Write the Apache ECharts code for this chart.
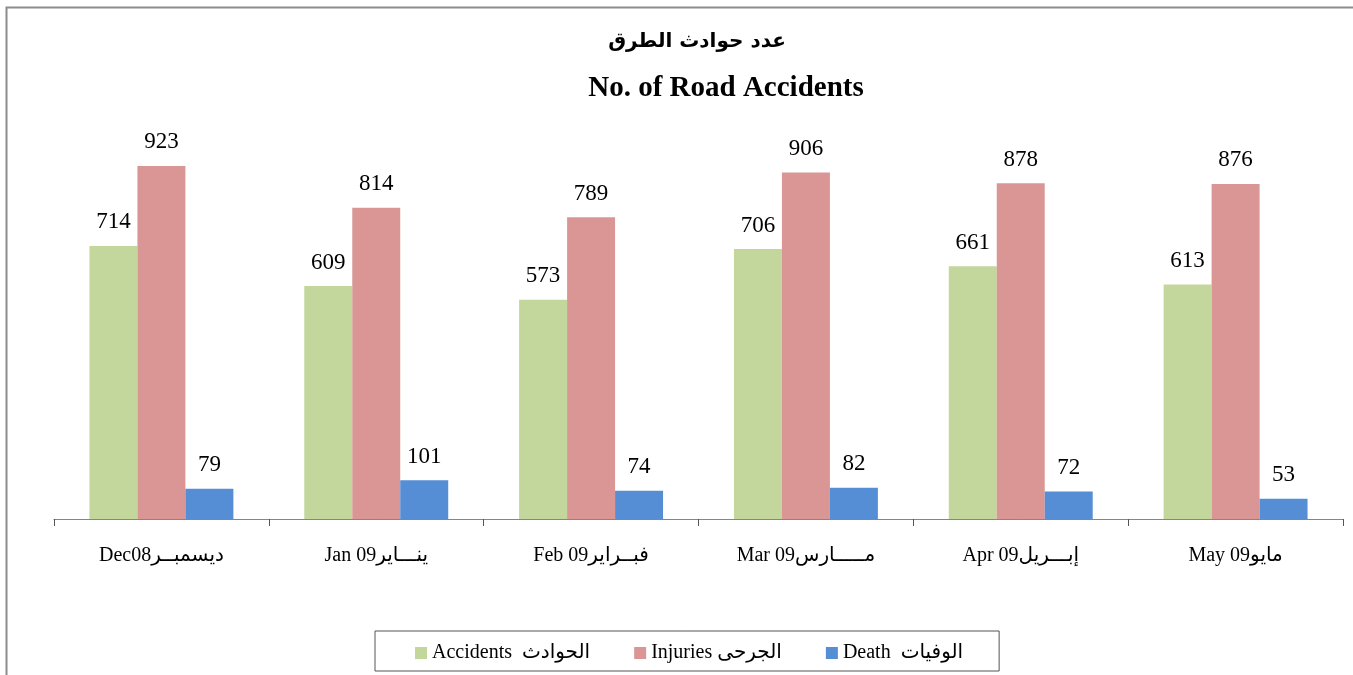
<!DOCTYPE html>
<html>
<head>
<meta charset="utf-8">
<script src="https://cdn.jsdelivr.net/npm/echarts@6/dist/echarts.min.js"></script>
<style>
  html, body { margin: 0; padding: 0; background: #fff; }
  #chart { width: 1353px; height: 675px; }
</style>
</head>
<body>
<div id="chart"></div>
<script>
// months on the x axis
var months = ['Dec08ديسمبــر', 'Jan 09ينـــاير', 'Feb 09فبــراير', 'Mar 09مـــــارس', 'Apr 09إبـــريل', 'May 09مايو'];

var accidents = [714, 609, 573, 706, 661, 613];
var injuries = [923, 814, 789, 906, 878, 876];
var deaths = [79, 101, 74, 82, 72, 53];

var seriesNames = ['Accidents  الحوادث', 'Injuries الجرحى', 'Death  الوفيات'];
var seriesColors = ['#C3D69B', '#D99694', '#558ED5'];

var FONT = "'Liberation Serif', 'Times New Roman', 'DejaVu Sans', serif";

var chart = echarts.init(document.getElementById('chart'));

function makeSeries(name, data, color) {
    return {
        name: name,
        type: 'bar',
        data: data,
        barGap: 0,
        barCategoryGap: '33%',
        itemStyle: { color: color },
        label: {
            show: true,
            position: 'top',
            distance: 12,
            fontFamily: FONT,
            fontSize: 23,
            color: '#000'
        }
    };
}

var option = {
    backgroundColor: '#fff',
    animation: false,
    graphic: [{
        type: 'rect',
        shape: { x: 6.5, y: 7.5, width: 1400, height: 700 },
        style: { fill: 'none', stroke: '#8c8c8c', lineWidth: 2 },
        silent: true
    }],
    title: [
        {
            text: 'عدد حوادث الطرق',
            left: 692,
            top: 27,
            textAlign: 'center',
            textStyle: { fontFamily: "'DejaVu Sans', sans-serif", fontSize: 20, fontWeight: 'bold', color: '#000' }
        },
        {
            text: 'No. of Road Accidents',
            left: 721,
            top: 69,
            textAlign: 'center',
            textStyle: { fontFamily: FONT, fontSize: 29, fontWeight: 'bold', color: '#000' }
        }
    ],
    legend: {
        data: seriesNames,
        left: 375,
        top: 631,
        padding: [12, 36, 8, 40],
        itemGap: 44,
        itemWidth: 12,
        itemHeight: 12,
        icon: 'rect',
        borderColor: '#555',
        borderWidth: 1,
        textStyle: { fontFamily: FONT, fontSize: 20, color: '#000' }
    },
    grid: {
        left: 54,
        right: 10,
        top: 136.5,
        bottom: 156,
        containLabel: false
    },
    xAxis: {
        type: 'category',
        data: months,
        axisLine: { lineStyle: { color: '#868686', width: 1 } },
        axisTick: { show: true, length: 7, lineStyle: { color: '#555' } },
        axisLabel: {
            margin: 27,
            fontFamily: FONT,
            fontSize: 20,
            color: '#000'
        }
    },
    yAxis: {
        type: 'value',
        min: 0,
        max: 1000,
        show: false,
        splitLine: { show: false }
    },
    series: [
        makeSeries(seriesNames[0], accidents, seriesColors[0]),
        makeSeries(seriesNames[1], injuries, seriesColors[1]),
        makeSeries(seriesNames[2], deaths, seriesColors[2])
    ]
};

chart.setOption(option);
</script>
</body>
</html>
